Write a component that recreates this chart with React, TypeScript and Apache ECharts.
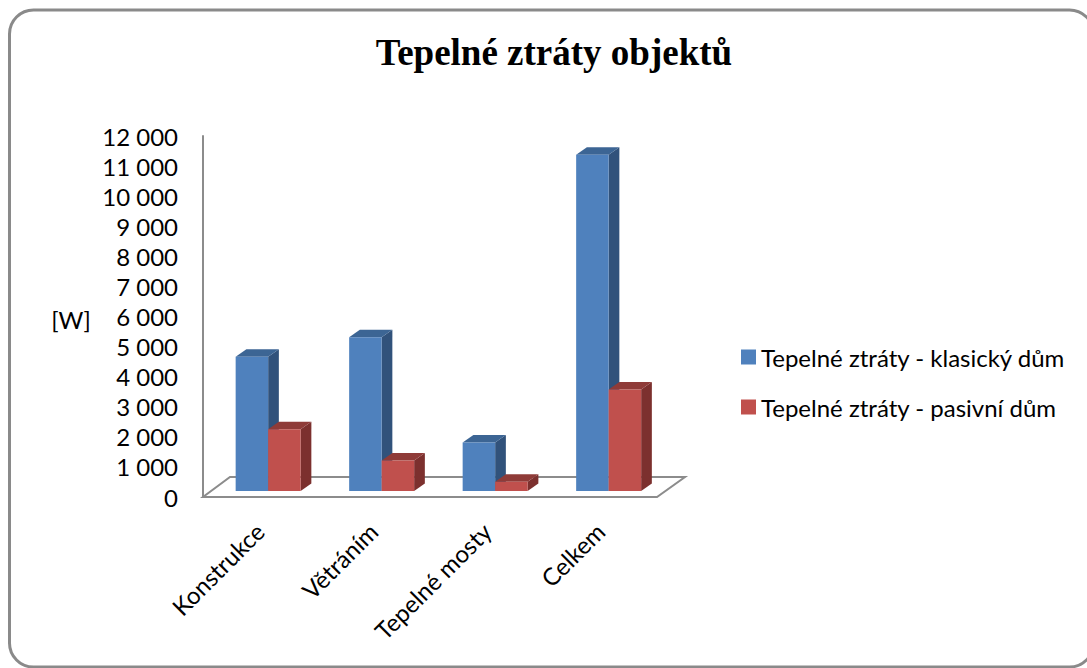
import React, { useEffect, useRef } from "react";
import * as echarts from "echarts";

const categories = ["Konstrukce", "Větráním", "Tepelné mosty", "Celkem"];
const seriesNames = ["Tepelné ztráty - klasický dům", "Tepelné ztráty - pasivní dům"];
const klasicky = [4460, 5110, 1610, 11180];
const pasivni = [2050, 1010, 310, 3370];
const yMin = 0;
const yMax = 12000;
const yInterval = 1000;

const FONT = "Lato";
const front = ["#4F81BD", "#C0504D"];
const topC = ["#3C6594", "#8F3B38"];
const sideC = ["#31527B", "#7C302E"];
const DX = 10.7;
const DY = 7.5;

function fmt(v: number) {
  const s = String(Math.round(v));
  return s.replace(/\B(?=(\d{3})+(?!\d))/g, " ");
}

function barSeries(idx: number, values: number[]) {
  return {
    type: "custom",
    name: seriesNames[idx],
    xAxisIndex: 1,
    yAxisIndex: 1,
    clip: false,
    z: 3 + idx,
    itemStyle: { color: front[idx] },
    data: values.map((v, i) => [i, v]),
    renderItem: (params: any, api: any) => {
      const i = api.value(0);
      const v = api.value(1);
      const base = api.coord([i, 0]);
      const top = api.coord([i, v]);
      const band = api.size([1, 0])[0];
      const bw = band * 0.2863;
      const x0 = base[0] - bw + idx * bw;
      const x1 = x0 + bw;
      const yb = base[1];
      const yt = top[1];
      return {
        type: "group",
        children: [
          {
            type: "polygon",
            shape: { points: [[x1, yt], [x1 + DX, yt - DY], [x1 + DX, yb - DY], [x1, yb]] },
            style: { fill: sideC[idx], stroke: null },
          },
          {
            type: "polygon",
            shape: { points: [[x0, yt], [x0 + DX, yt - DY], [x1 + DX, yt - DY], [x1, yt]] },
            style: { fill: topC[idx], stroke: null },
          },
          {
            type: "rect",
            shape: { x: x0, y: yt, width: bw, height: yb - yt },
            style: { fill: front[idx], stroke: null },
          },
        ],
      };
    },
  };
}

export default function App() {
  const ref = useRef<HTMLDivElement>(null);
  useEffect(() => {
    if (!ref.current) return;
    const chart = echarts.init(ref.current, null, { renderer: "svg" });
    const option: any = {
      animation: false,
      backgroundColor: "#ffffff",
      textStyle: { fontFamily: FONT },
      graphic: [
        {
          type: "rect",
          shape: { x: 9.5, y: 10, width: 1084, height: 657, r: 24 },
          style: { fill: "none", stroke: "#8a8a8a", lineWidth: 3 },
          silent: true,
        },
        {
          type: "text",
          x: 554,
          y: 52,
          style: {
            text: "Tepelné ztráty objektů",
            fontFamily: "Liberation Serif",
            fontWeight: "bold",
            fontSize: 37,
            fill: "#000",
            align: "center",
            verticalAlign: "middle",
          },
        },
        {
          type: "text",
          x: 71,
          y: 319,
          style: {
            text: "[W]",
            fontFamily: FONT,
            fontSize: 24,
            fill: "#000",
            align: "center",
            verticalAlign: "middle",
          },
        },
      ],
      legend: {
        orient: "vertical",
        left: 736,
        top: 340,
        data: seriesNames,
        icon: "rect",
        itemWidth: 15,
        itemHeight: 15,
        itemGap: 26,
        textStyle: { fontFamily: FONT, fontSize: 24, color: "#000", lineHeight: 24 },
      },
      grid: [
        { left: 203, top: 136, width: 454, height: 361 },
        { left: 211.4, top: 130, width: 454, height: 361 },
      ],
      xAxis: [
        {
          type: "category",
          gridIndex: 0,
          data: categories,
          axisLine: { show: false },
          axisTick: { show: false },
          axisLabel: {
            rotate: 45,
            margin: 30,
            fontFamily: FONT,
            fontSize: 24,
            color: "#000",
            interval: 0,
          },
        },
        {
          type: "category",
          gridIndex: 1,
          data: categories,
          show: false,
        },
      ],
      yAxis: [
        {
          type: "value",
          gridIndex: 0,
          min: yMin,
          max: yMax,
          interval: yInterval,
          axisLine: { show: true, lineStyle: { color: "#8c8c8c", width: 2 } },
          axisTick: { show: false },
          splitLine: { show: false },
          axisLabel: {
            margin: 25,
            fontFamily: FONT,
            fontSize: 24,
            color: "#000",
            formatter: (v: number) => fmt(v),
          },
        },
        {
          type: "value",
          gridIndex: 1,
          min: yMin,
          max: yMax,
          interval: yInterval,
          show: false,
        },
      ],
      series: [
        {
          type: "custom",
          xAxisIndex: 0,
          yAxisIndex: 0,
          silent: true,
          clip: false,
          z: 1,
          data: [[0, 0]],
          renderItem: (params: any) => {
            const cs = params.coordSys;
            const fy = cs.y + cs.height;
            const fl = cs.x;
            const fr = cs.x + cs.width;
            return {
              type: "polygon",
              shape: {
                points: [
                  [fl, fy],
                  [fr, fy],
                  [fr + 28, fy - 20],
                  [fl + 27, fy - 20],
                ],
              },
              style: { fill: "none", stroke: "#8c8c8c", lineWidth: 2 },
            };
          },
        },
        barSeries(0, klasicky),
        barSeries(1, pasivni),
      ],
    };
    chart.setOption(option);
    return () => chart.dispose();
  }, []);
  return (
    <div
      ref={ref}
      style={{ position: "fixed", left: 0, top: 0, width: 1087, height: 668 }}
    />
  );
}
